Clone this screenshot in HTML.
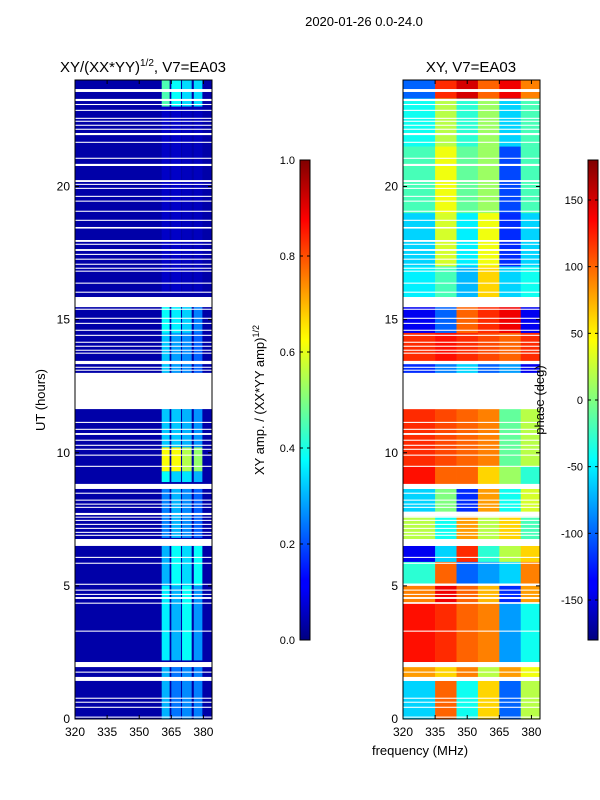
<!DOCTYPE html>
<html><head><meta charset="utf-8"><style>
html,body{margin:0;padding:0;background:#fff;}
svg{display:block;font-family:"Liberation Sans","DejaVu Sans",sans-serif;}
</style></head><body>
<svg id="fig" width="600" height="800" viewBox="0 0 600 800">
<defs>
<linearGradient id="jet" x1="0" y1="1" x2="0" y2="0">
<stop offset="0" stop-color="#000080"/><stop offset="0.11" stop-color="#0000ff"/>
<stop offset="0.125" stop-color="#0000ff"/><stop offset="0.34" stop-color="#00dcff"/>
<stop offset="0.375" stop-color="#00ffff"/><stop offset="0.5" stop-color="#80ff80"/>
<stop offset="0.625" stop-color="#ffff00"/><stop offset="0.66" stop-color="#ffe000"/>
<stop offset="0.875" stop-color="#ff0000"/><stop offset="1" stop-color="#800000"/>
</linearGradient>
</defs>
<text x="364" y="26" font-size="13" text-anchor="middle">2020-01-26 0.0-24.0</text>
<g id="left"></g>
<g id="right"></g>
<g id="cb"></g>
</svg>
<script>
// ---- data ----
const gapStart=[23.55,23.21,23.06,22.84,22.54,22.43,22.28,22.13,21.93,21.64,21.04,20.77,20.17,20.06,19.91,19.61,19.43,19.05,18.71,18.42,17.92,17.81,17.58,17.43,17.25,17.06,16.91,16.80,16.35,16.01,15.47,15.37,15.03,14.84,14.58,14.39,14.13,13.98,13.83,13.72,13.33,13.19,13.08,11.64,11.12,10.86,10.67,10.45,10.26,10.11,9.89,9.47,8.64,8.46,8.20,8.05,7.93,7.66,7.56,7.44,7.29,7.14,6.99,6.88,6.50,6.05,5.83,5.04,4.82,4.66,4.51,4.33,3.28,1.95,1.74,1.43,0.76,0.61,0.42,0.05];
const gapEnd=[23.66,23.29,23.10,22.88,22.58,22.47,22.32,22.17,22.01,21.68,21.08,20.85,20.24,20.10,19.95,19.65,19.47,19.09,18.75,18.48,17.99,17.85,17.65,17.47,17.29,17.10,16.95,16.84,16.39,16.05,15.85,15.41,15.07,14.88,14.62,14.43,14.17,14.02,13.87,13.76,13.45,13.23,13.12,13.00,11.16,10.90,10.74,10.49,10.30,10.15,9.93,9.51,8.83,8.50,8.24,8.09,7.97,7.74,7.60,7.48,7.33,7.18,7.03,6.92,6.76,6.09,5.87,5.08,4.86,4.70,4.58,4.37,3.32,2.14,1.78,1.58,0.80,0.65,0.46,0.09];
// amplitude: time segments x 4 bright frequency bands
const ampSegStart=[23.0,16.0,14.5,13.0,10.2,9.3,8.9,6.8,5.0,2.2,0.0];
const ampSegEnd  =[24.0,23.0,15.5,14.5,11.64,10.2,9.3,8.64,6.5,5.0,1.95];
const bandLo=[360.5,365.0,370.0,375.5];
const bandHi=[364.2,369.5,374.5,379.5];
const amp1=[0.45,0.07,0.38,0.32,0.32,0.62,0.38,0.25,0.30,0.36,0.30];
const amp2=[0.38,0.07,0.36,0.28,0.32,0.62,0.33,0.30,0.38,0.30,0.24];
const amp3=[0.34,0.06,0.33,0.26,0.30,0.55,0.35,0.26,0.34,0.38,0.26];
const amp4=[0.34,0.06,0.25,0.22,0.27,0.52,0.30,0.22,0.38,0.27,0.25];
const ampBackground=0.04;
// phase: time segments x 6 frequency blocks (deg)
const phSegStart=[23.3,21.5,19.0,17.0,15.85,14.5,13.45,13.0,9.5,8.83,7.8,6.76,5.9,5.1,4.4,2.14,1.58,0.0];
const phSegEnd  =[24.0,23.3,21.5,19.0,17.0,15.47,14.5,13.33,11.64,9.5,8.64,7.6,6.5,5.9,5.0,4.33,1.95,1.43];
const phFreqEdges=[320,335,345,355,365,375,384];
const ph1=[-100,-40,-20,-60,-50,-140,120,-120,120,130,-60,20,-140,-30,90,130,80,-60];
const ph2=[120,20,40,30,-20,-100,130,-90,110,100,0,-40,-60,100,140,120,60,100];
const ph3=[150,-30,-10,-50,-70,100,120,-60,100,100,-120,80,120,-100,100,100,90,-40];
const ph4=[100,10,10,40,60,120,110,-100,90,60,80,20,-30,-80,70,90,20,60];
const ph5=[140,-60,-110,-120,-60,140,100,-80,-10,10,-40,60,20,-60,-120,-80,80,-100];
const ph6=[90,-20,-20,-60,-40,-140,120,-140,20,-30,30,-20,60,90,80,-40,40,20];
const ampTicks=[0,0.2,0.4,0.6,0.8,1.0];
const phTicks=[-150,-100,-50,0,50,100,150];
const xTicks=[320,335,350,365,380];
const yTicks=[0,5,10,15,20];

// ---- helpers ----
const NS="http://www.w3.org/2000/svg";
function jet(v){v=Math.max(0,Math.min(1,v));
 const r=Math.max(0,Math.min(1,1.5-Math.abs(4*v-3))),g=Math.max(0,Math.min(1,1.5-Math.abs(4*v-2))),b=Math.max(0,Math.min(1,1.5-Math.abs(4*v-1)));
 return `rgb(${Math.round(r*255)},${Math.round(g*255)},${Math.round(b*255)})`;}
function mk(tag,attrs,parent){const e=document.createElementNS(NS,tag);for(const k in attrs)e.setAttribute(k,attrs[k]);parent.appendChild(e);return e;}
const Y0=719,Y1=80;
const yScale=u=>Y0-(u/24)*(Y0-Y1);
function xScaleFor(x0){return f=>x0+(f-320)/(384-320)*137;}
const L=document.getElementById('left'),R=document.getElementById('right'),CB=document.getElementById('cb');
const xsL=xScaleFor(75),xsR=xScaleFor(403);

const bgData=mk('rect',{x:75,y:Y1,width:137,height:Y0-Y1,fill:jet(ampBackground)},L);


const amps=[amp1,amp2,amp3,amp4];
for(let i=0;i<ampSegStart.length;i++){
 for(let b=0;b<4;b++){
  const r=mk('rect',{x:xsL(bandLo[b]),y:yScale(ampSegEnd[i]),width:xsL(bandHi[b])-xsL(bandLo[b]),height:yScale(ampSegStart[i])-yScale(ampSegEnd[i]),fill:jet(amps[b][i])},L);
  
  
 }
}
for(let i=0;i<phSegStart.length;i++){
 const vals=[ph1[i],ph2[i],ph3[i],ph4[i],ph5[i],ph6[i]];
 for(let b=0;b<6;b++){
  const r=mk('rect',{x:xsR(phFreqEdges[b]),y:yScale(phSegEnd[i]),width:xsR(phFreqEdges[b+1])-xsR(phFreqEdges[b])+0.3,height:yScale(phSegStart[i])-yScale(phSegEnd[i])+0.3,fill:jet((vals[b]+180)/360)},R);
  
  
 }
}
for(let i=0;i<gapStart.length;i++){
 for(const [g,x0] of [[L,75],[R,403]]){
  const r=mk('rect',{x:x0,y:yScale(gapEnd[i]),width:137,height:Math.max(1,yScale(gapStart[i])-yScale(gapEnd[i])),fill:'#fff'},g);
  
  
 }
}
for(const [g,x0,xs] of [[L,75,xsL],[R,403,xsR]]){
 const fr=mk('rect',{x:x0,y:Y1,width:137,height:Y0-Y1,fill:'none',stroke:'#000','stroke-width':1},g);
 
 
 for(const t of xTicks){
  const x=xs(t);
  mk('line',{x1:x,x2:x,y1:Y0,y2:Y0-4,stroke:'#000'},g);
  mk('line',{x1:x,x2:x,y1:Y1,y2:Y1+4,stroke:'#000'},g);
  const tx=mk('text',{x:x,y:Y0+17,'font-size':12,'text-anchor':'middle'},g);
  tx.textContent=t;
  
  
 }
 for(const t of yTicks){
  const y=yScale(t);
  mk('line',{x1:x0,x2:x0+4,y1:y,y2:y,stroke:'#000'},g);
  mk('line',{x1:x0+137,x2:x0+133,y1:y,y2:y,stroke:'#000'},g);
  const tx=mk('text',{x:x0-5,y:y+4,'font-size':12,'text-anchor':'end'},g);
  tx.textContent=t;
  
  
 }
}
const t1=mk('text',{x:143,y:72,'font-size':15,'text-anchor':'middle'},L);
t1.innerHTML='XY/(XX*YY)<tspan font-size="10" dy="-6">1/2</tspan><tspan dy="6">, V7=EA03</tspan>';


const t2=mk('text',{x:471,y:72,'font-size':15,'text-anchor':'middle'},R);
t2.textContent='XY, V7=EA03';


const yl=mk('text',{x:45,y:400,'font-size':13,'text-anchor':'middle',transform:'rotate(-90 45 400)'},L);
yl.textContent='UT (hours)';


const xl=mk('text',{x:420,y:755,'font-size':13,'text-anchor':'middle'},R);
xl.textContent='frequency (MHz)';


function colorbar(x,lo,hi,ticks,label,lx,name){
 const r=mk('rect',{x:x,y:160,width:10,height:480,fill:'url(#jet)',stroke:'#000','stroke-width':1},CB);
 
 
 for(const t of ticks){
  const y=640-(t-lo)/(hi-lo)*480;
  mk('line',{x1:x,x2:x+3,y1:y,y2:y,stroke:'#000'},CB);
  mk('line',{x1:x+10,x2:x+7,y1:y,y2:y,stroke:'#000'},CB);
  const tx=mk('text',{x:x-5,y:y+4,'font-size':11,'text-anchor':'end'},CB);
  tx.textContent=(hi===1?t.toFixed(1):t);
  
  
 }
 const l=mk('text',{x:lx,y:400,'font-size':13,'text-anchor':'middle',transform:`rotate(-90 ${lx} 400)`},CB);
 l.innerHTML=label;
 
 
}
colorbar(300,0,1,ampTicks,'XY amp. / (XX*YY amp)<tspan font-size="9" dy="-5">1/2</tspan>',264,'amplitude-colorbar');
colorbar(588,-180,180,phTicks,'phase (deg)',544,'phase-colorbar');
</script>
</body></html>
